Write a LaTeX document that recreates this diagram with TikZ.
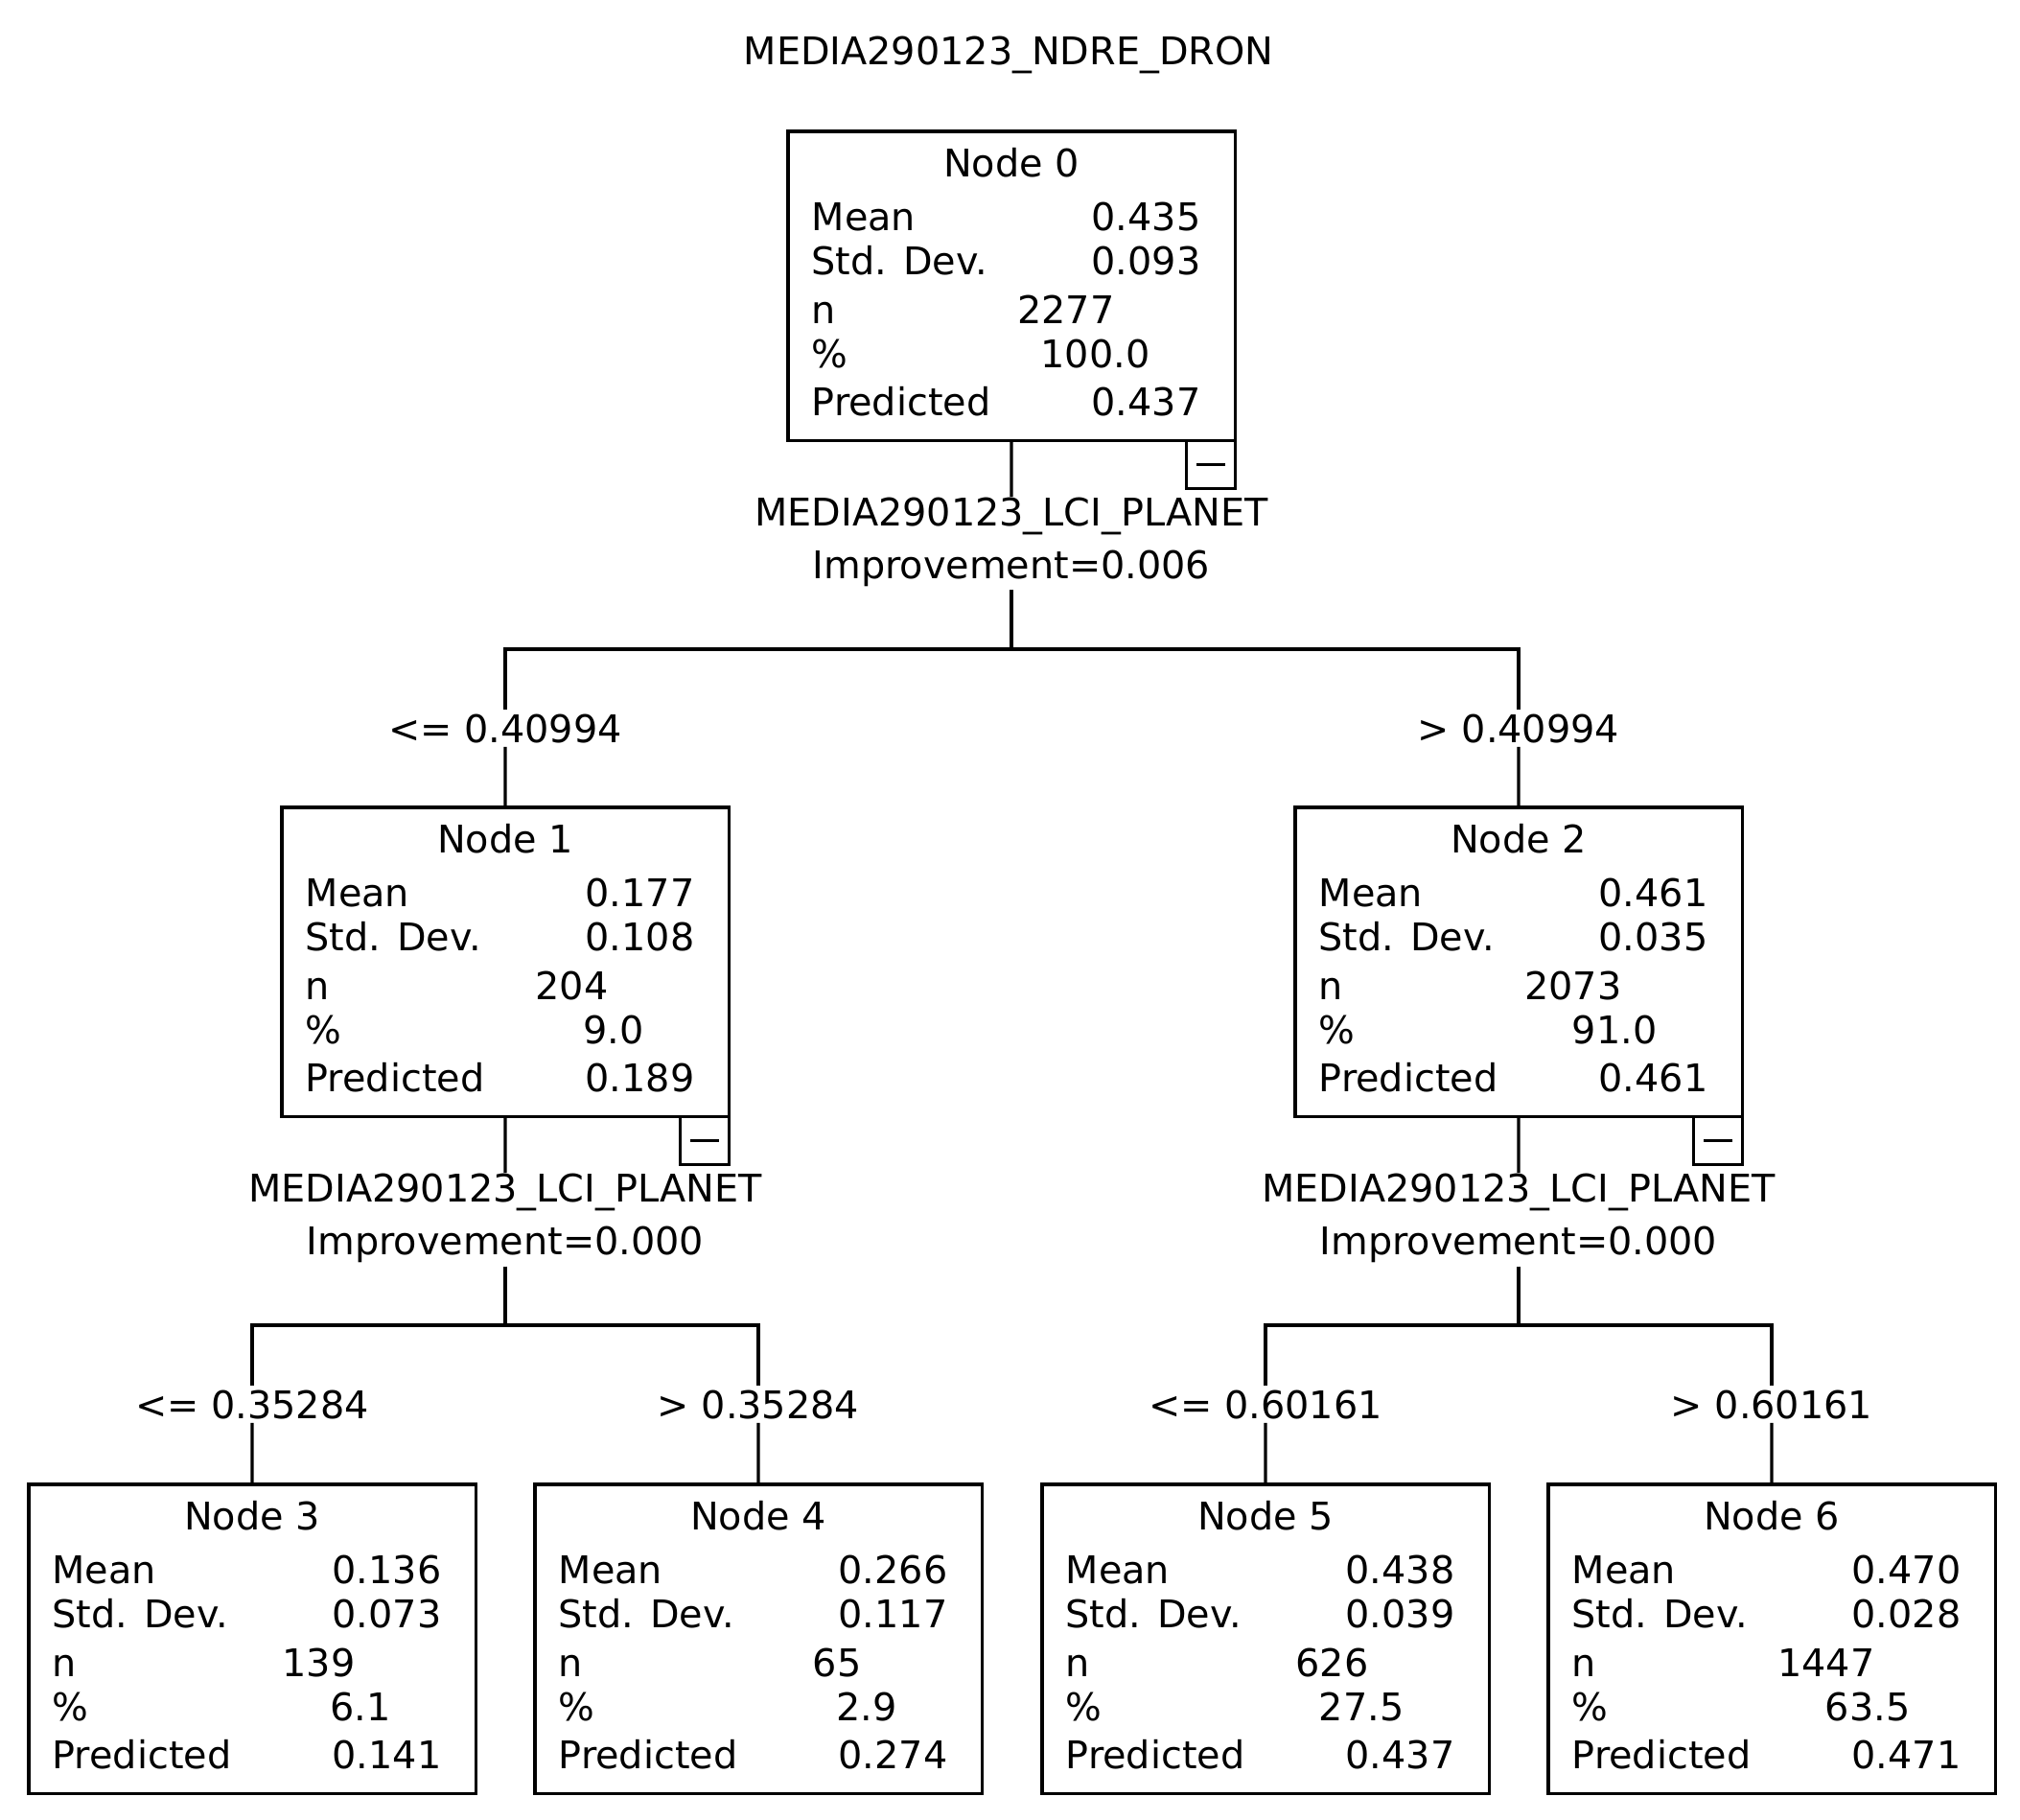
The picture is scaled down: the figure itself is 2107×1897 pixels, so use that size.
\documentclass[tikz,border=0pt]{standalone}
\usepackage{fontspec}
\setmainfont{DejaVu Sans}
\usepackage{tikz}

\newcommand{\treefont}{\fontsize{11.3}{14}\selectfont}

\newcommand{\statnode}[9]{%
  \begin{scope}[shift={(#2,#3)}]
    \node[block] (#1) at (0,0) {};
    \node[txt, anchor=base] (#1title) at (233,47) {Node #4};
    \node[txt, anchor=base west] (#1mean) at (24,103) {Mean};
    \node[txt, anchor=base east] (#1meanv) at (431,103) {#5};
    \node[txt, anchor=base west] (#1sd) at (24,149) {Std. Dev.};
    \node[txt, anchor=base east] (#1sdv) at (431,149) {#6};
    \node[txt, anchor=base west] (#1n) at (24,200) {n};
    \node[txt, anchor=base east] (#1nv) at (341,200) {#7};
    \node[txt, anchor=base west] (#1pct) at (24,246) {\%};
    \node[txt, anchor=base east] (#1pctv) at (378,246) {#8};
    \node[txt, anchor=base west] (#1pred) at (24,296) {Predicted};
    \node[txt, anchor=base east] (#1predv) at (431,296) {#9};
  \end{scope}}

\begin{document}
\begin{tikzpicture}[
    x=0.01cm, y=-0.01cm,
    txt/.style={font=\treefont, inner sep=0pt},
    cut/.style={txt, inner ysep=1pt},
    block/.style={draw, line width=0.9pt, anchor=north west, inner sep=0pt, outer sep=0pt, minimum width=4.66cm, minimum height=3.22cm},
    minusbox/.style={draw, line width=0.9pt, anchor=north east, inner sep=0pt, outer sep=0pt, minimum width=0.51cm, minimum height=0.50cm,
        path picture={\draw[line width=0.9pt] ([xshift=-0.15cm]path picture bounding box.center) -- ([xshift=0.15cm]path picture bounding box.center);}},
    link/.style={line width=0.9pt}
]
\useasboundingbox (0,0) rectangle (2107,1897);

\node[txt, anchor=base] (title) at (1052,68) {MEDIA290123\_NDRE\_DRON};

\statnode{n0}{822}{137}{0}{0.435}{0.093}{2277}{100.0}{0.437}
\statnode{n1}{294}{842}{1}{0.177}{0.108}{204}{9.0}{0.189}
\statnode{n2}{1351}{842}{2}{0.461}{0.035}{2073}{91.0}{0.461}
\statnode{n3}{30}{1548}{3}{0.136}{0.073}{139}{6.1}{0.141}
\statnode{n4}{558}{1548}{4}{0.266}{0.117}{65}{2.9}{0.274}
\statnode{n5}{1087}{1548}{5}{0.438}{0.039}{626}{27.5}{0.437}
\statnode{n6}{1615}{1548}{6}{0.470}{0.028}{1447}{63.5}{0.471}

\node[minusbox] (n0x) at (n0.south east) {};
\node[minusbox] (n1x) at (n1.south east) {};
\node[minusbox] (n2x) at (n2.south east) {};

\node[txt, anchor=base] (s0) at (1055,548) {MEDIA290123\_LCI\_PLANET};
\node[cut, anchor=base] (i0) at (1055,603) {Improvement=0.006};
\coordinate (b0) at (1055,677);
\node[cut, anchor=base] (l1) at (527,774) {<= 0.40994};
\node[cut, anchor=base] (l2) at (1584,774) {> 0.40994};

\node[txt, anchor=base] (s1) at (527,1253) {MEDIA290123\_LCI\_PLANET};
\node[cut, anchor=base] (i1) at (527,1308) {Improvement=0.000};
\coordinate (b1) at (527,1382);
\node[cut, anchor=base] (l3) at (263,1479) {<= 0.35284};
\node[cut, anchor=base] (l4) at (791,1479) {> 0.35284};

\node[txt, anchor=base] (s2) at (1584,1253) {MEDIA290123\_LCI\_PLANET};
\node[cut, anchor=base] (i2) at (1584,1308) {Improvement=0.000};
\coordinate (b2) at (1584,1382);
\node[cut, anchor=base] (l5) at (1320,1479) {<= 0.60161};
\node[cut, anchor=base] (l6) at (1848,1479) {> 0.60161};

\draw[link] (n0) -- (s0);
\draw[link] (i0) -- (b0);
\draw[link] (l1) |- (b0) -| (l2);
\draw[link] (l1) -- (n1);
\draw[link] (l2) -- (n2);

\draw[link] (n1) -- (s1);
\draw[link] (i1) -- (b1);
\draw[link] (l3) |- (b1) -| (l4);
\draw[link] (l3) -- (n3);
\draw[link] (l4) -- (n4);

\draw[link] (n2) -- (s2);
\draw[link] (i2) -- (b2);
\draw[link] (l5) |- (b2) -| (l6);
\draw[link] (l5) -- (n5);
\draw[link] (l6) -- (n6);

\end{tikzpicture}
\end{document}
